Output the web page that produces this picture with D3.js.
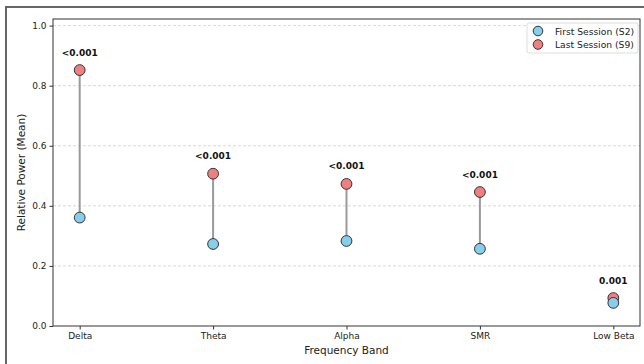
<!DOCTYPE html>
<html><head><meta charset="utf-8">
<script src="https://cdn.jsdelivr.net/npm/d3@7"></script>
<style>body{margin:0;background:#fff}svg{display:block}text{font-family:"DejaVu Sans",sans-serif}</style>
</head><body><div id="chart"></div>
<script>
const categories = ["Delta","Theta","Alpha","SMR","Low Beta"];
const firstSession = [0.361, 0.273, 0.283, 0.257, 0.077];
const lastSession = [0.852, 0.507, 0.473, 0.446, 0.093];
const pLabels = ["<0.001","<0.001","<0.001","<0.001","0.001"];
const yTicks = [0.0, 0.2, 0.4, 0.6, 0.8, 1.0];
const seriesNames = ["First Session (S2)","Last Session (S9)"];
const yMax = 1.022;

const W = 644, H = 364;
const svg = d3.select("#chart").append("svg").attr("width", W).attr("height", H);
const m = {left: 53, right: 640, top: 19, bottom: 326};

// outer frame
svg.append("rect").attr("x", 6).attr("y", 7).attr("width", 700).attr("height", 400)
  .attr("fill", "none").attr("stroke", "#666").attr("stroke-width", 2);

const x = d3.scaleLinear().domain([-0.2, categories.length - 0.8]).range([m.left, m.right]);
const y = d3.scaleLinear().domain([0, yMax]).range([m.bottom, m.top]);

// grid
svg.append("g").selectAll("line").data(yTicks.filter(d => d > 0)).join("line")
  .attr("x1", m.left).attr("x2", m.right)
  .attr("y1", d => y(d)).attr("y2", d => y(d))
  .attr("stroke", "#cfcfcf").attr("stroke-width", 0.8).attr("stroke-dasharray", "3,2");

// axes
const yAxis = svg.append("g").attr("transform", `translate(${m.left},0)`)
  .call(d3.axisLeft(y).tickValues(yTicks).tickFormat(d3.format(".1f")).tickSize(3.5).tickPadding(3));
const xAxis = svg.append("g").attr("transform", `translate(0,${m.bottom})`)
  .call(d3.axisBottom(x).tickValues(d3.range(categories.length)).tickFormat(i => categories[i]).tickSize(3.5).tickPadding(3));
[yAxis, xAxis].forEach(g => {
  g.select(".domain").remove();
  g.selectAll("line").attr("stroke", "#333");
  g.selectAll("text").attr("fill", "#222").style("font-size", "9px");
});

// spines
svg.append("rect").attr("x", m.left).attr("y", m.top).attr("width", m.right - m.left).attr("height", m.bottom - m.top)
  .attr("fill", "none").attr("stroke", "#333").attr("stroke-width", 1);

// connecting lines
const idx = d3.range(categories.length);
svg.append("g").selectAll("line").data(idx).join("line")
  .attr("x1", i => x(i)).attr("x2", i => x(i))
  .attr("y1", i => y(firstSession[i])).attr("y2", i => y(lastSession[i]))
  .attr("stroke", "#9a9a9a").attr("stroke-width", 2);

const blue = "#87CEEB", red = "#F08080";
svg.append("g").selectAll("circle").data(idx).join("circle")
  .attr("cx", i => x(i)).attr("cy", i => y(lastSession[i])).attr("r", 5.4)
  .attr("fill", red).attr("stroke", "#333").attr("stroke-width", 1);
svg.append("g").selectAll("circle").data(idx).join("circle")
  .attr("cx", i => x(i)).attr("cy", i => y(firstSession[i])).attr("r", 5.4)
  .attr("fill", blue).attr("stroke", "#333").attr("stroke-width", 1);

// p labels
svg.append("g").selectAll("text").data(idx).join("text")
  .attr("x", i => x(i)).attr("y", i => y(lastSession[i] + 0.05) + 0.5)
  .attr("text-anchor", "middle").style("font-size", "9px").style("font-weight", "bold").attr("fill", "#111")
  .text(i => pLabels[i]);

// axis labels
svg.append("text").attr("x", (m.left + m.right) / 2).attr("y", 354).attr("text-anchor", "middle")
  .style("font-size", "10.5px").attr("fill", "#222").text("Frequency Band");
svg.append("text").attr("transform", `translate(25,${(m.top + m.bottom) / 2}) rotate(-90)`).attr("text-anchor", "middle")
  .style("font-size", "10.5px").attr("fill", "#222").text("Relative Power (Mean)");

// legend
const lg = svg.append("g");
lg.append("rect").attr("x", 527).attr("y", 23).attr("width", 111).attr("height", 30).attr("rx", 2)
  .attr("fill", "#fff").attr("stroke", "#ddd").attr("stroke-width", 1);
[blue, red].forEach((c, k) => {
  lg.append("circle").attr("cx", 538).attr("cy", 31 + k * 13.5).attr("r", 4.8)
    .attr("fill", c).attr("stroke", "#333").attr("stroke-width", 1);
  lg.append("text").attr("x", 555).attr("y", 34.5 + k * 13.5).style("font-size", "9.2px").attr("fill", "#222")
    .text(seriesNames[k]);
});
</script></body></html>
